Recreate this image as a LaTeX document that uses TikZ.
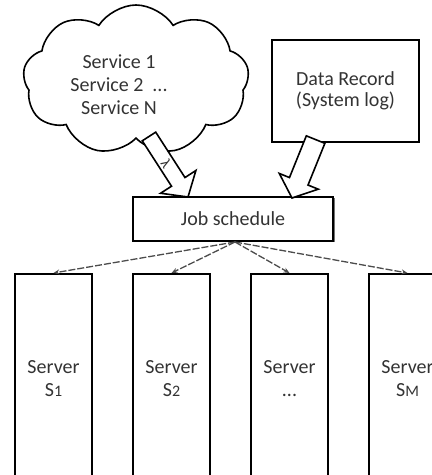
\documentclass[tikz,border=0pt]{standalone}
\usepackage{fontspec}
\setmainfont{Carlito}
\usetikzlibrary{shapes.symbols,shadows,arrows.meta}
\begin{document}
\begin{tikzpicture}[x=1pt,y=1pt,
  txt/.style={text=black!80, font=\fontsize{20}{23}\selectfont, align=center},
  box/.style={draw, line width=2pt, txt, inner sep=0pt},
  srv/.style={box, minimum width=77, minimum height=209, anchor=north},
  bigarrow/.style={draw, line width=1.6pt, fill=white, line join=miter},
  disp/.style={draw=black!70, line width=1.3pt, dash pattern=on 7pt off 2pt,
    -{Stealth[length=6pt,width=5pt]}}]
\clip (0,0) rectangle (432,475);
% cloud
\node[cloud, draw, line width=1.6pt, cloud puffs=9, cloud puff arc=115,
  aspect=1.55, minimum width=226, minimum height=150, inner sep=0pt]
  (cloud) at (136,395) {};
\node[txt] (svc) at (119,390) {Service 1\\Service 2 \ ...\\Service N};
% data record
\node[box, minimum width=147, minimum height=102, font=\fontsize{20}{21}\selectfont]
  (rec) at (345.5,384) {Data Record\\(System log)};
% job schedule
\node[box, minimum width=200, minimum height=44, fill=white,
  drop shadow={shadow xshift=1.5pt, shadow yshift=-1.5pt, fill=black!55, opacity=1}]
  (job) at (233,256) {Job schedule};
% servers
\node[srv] (s1) at (53.5,202) {Server\\S{\fontsize{16}{16}\selectfont 1}};
\node[srv] (s2) at (171.5,202) {Server\\S{\fontsize{16}{16}\selectfont 2}};
\node[srv] (s3) at (289.5,202) {Server\\...};
\node[srv] (sm) at (407.5,202) {Server\\S{\fontsize{16}{16}\selectfont M}};
% dispatch arrows
\coordinate (jo) at (235,233);
\draw[disp] (jo) -- (s1.north);
\draw[disp] (jo) -- (s2.north);
\draw[disp] (jo) -- (s3.north);
\draw[disp] (jo) -- (sm.north);
% big arrows
\coordinate (t1) at (188,278);
\begin{scope}[shift={(t1)}, rotate=-57.2]
  \draw[bigarrow] (0,0) -- (-18,21) -- (-18,8) -- (-72,8) -- (-72,-8)
    -- (-18,-8) -- (-18,-21) -- cycle;
  \node[text=black!80, font=\fontsize{15}{15}\selectfont, rotate=-57.2] (lam) at (-40,0) {λ};
\end{scope}
\coordinate (t2) at (292,277);
\begin{scope}[shift={(t2)}, rotate=-112]
  \draw[bigarrow] (0,0) -- (-18,21) -- (-18,10) -- (-63,10) -- (-63,-10)
    -- (-18,-10) -- (-18,-21) -- cycle;
\end{scope}
\end{tikzpicture}
\end{document}
